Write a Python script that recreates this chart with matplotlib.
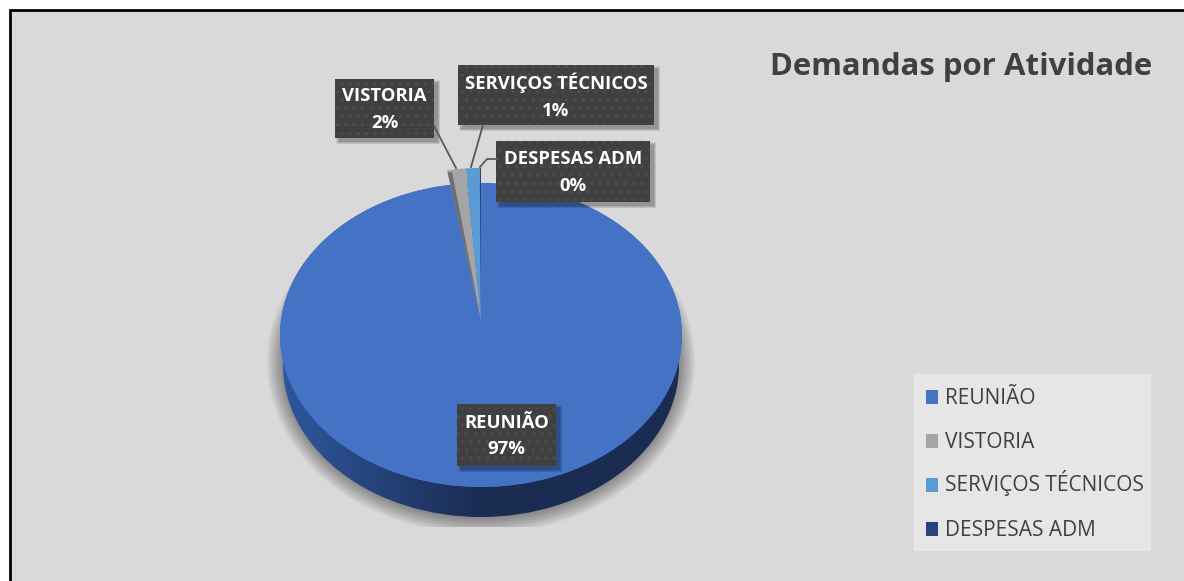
import matplotlib
matplotlib.use("Agg")
from matplotlib import pyplot as plt
from matplotlib.patches import Ellipse, Rectangle, Wedge
import numpy as np

categories = ["REUNIÃO", "VISTORIA", "SERVIÇOS TÉCNICOS", "DESPESAS ADM"]
values = [97.3, 1.5, 1.1, 0.1]
pct_labels = ["97%", "2%", "1%", "0%"]
colors = ["#4472c4", "#a5a5a5", "#5b9bd5", "#264478"]
title = "Demandas por Atividade"

plt.rcParams['font.family'] = ['Open Sans', 'DejaVu Sans']
plt.rcParams['hatch.linewidth'] = 1.0

W, H = 1184, 581
fig = plt.figure(figsize=(W / 100, H / 100), dpi=100, facecolor="white")

# whole figure in pixel coords, y down
bg = fig.add_axes([0, 0, 1, 1])
bg.set_xlim(0, W)
bg.set_ylim(H, 0)
bg.axis("off")
bg.add_patch(Rectangle((10, 10), 1190, 590, fc="#d9d9d9", ec="black", lw=2))


def pie_axes(cx, cy, rx, ry):
    # axes where the unit pie comes out as an ellipse
    ax = fig.add_axes([(cx - rx) / W, 1 - (cy + ry) / H, 2 * rx / W, 2 * ry / H])
    ax.patch.set_alpha(0)
    return ax


# shadow below the pie, cut flat at the bottom
shadow_clip = Rectangle((200, 150), 560, 377, transform=bg.transData)
for i in range(12):
    s = Ellipse((481, 362), 2 * (214 - i * 1.6), 2 * (172 - i * 1.6), fc="black", ec="none", alpha=0.038)
    bg.add_patch(s)
    s.set_clip_path(shadow_clip)

# side of the pie, gradient left to right
cx, cy, rx, ry = 481, 335, 201, 152
grad = np.linspace(0, 1, 256).reshape(1, -1)
c0 = np.array([0x2f, 0x57, 0x9e]) / 255
c1 = np.array([0x1a, 0x2c, 0x52]) / 255
t = np.clip(grad * 2.0, 0, 1)[..., None]
img = bg.imshow(c0 + (c1 - c0) * t, extent=[283, 679, 517, 330], aspect="auto", zorder=2)
bg.set_xlim(0, W)
bg.set_ylim(H, 0)
clip = Ellipse((481, 365), 396, 304, transform=bg.transData, fc="none", ec="none")
bg.add_patch(clip)
img.set_clip_path(clip)

# main slice, the full ellipse closes the notch under the small slices
bg.add_patch(Ellipse((cx, cy), 2 * rx, 2 * ry, fc=colors[0], ec="none", zorder=3))
ax1 = pie_axes(cx, cy, rx, ry)
wedges, _ = ax1.pie(values, colors=colors, startangle=90, counterclock=False, radius=1)
ax1.set_aspect("auto")
ax1.set_xlim(-1, 1)
ax1.set_ylim(-1, 1)
for w in wedges[1:]:
    w.set_visible(False)

# small slices sit higher up
ax2 = pie_axes(481, 320, 201, 152)
wedges2, _ = ax2.pie(values, colors=colors, startangle=90, counterclock=False, radius=1)
ax2.set_aspect("auto")
ax2.set_xlim(-1, 1)
ax2.set_ylim(-1, 1)
wedges2[0].set_visible(False)
# darker left edge of the grey slice
left_edge = wedges2[1].theta2
ax2.add_patch(Wedge((0, 0), 0.985, left_edge - 1.3, left_edge, fc="#6e6e6e", ec="none"))

over = fig.add_axes([0, 0, 1, 1])
over.set_xlim(0, W)
over.set_ylim(H, 0)
over.axis("off")

# leader lines
over.plot([434, 456], [126, 168], color="#595959", lw=1.3)
over.plot([483, 471], [125, 167], color="#595959", lw=1.3)
over.plot([480, 487, 497], [167, 159, 159], color="#595959", lw=1.3)

# data labels, name and percent
boxes = [(457, 404, 99, 62), (335, 79, 99, 59), (458, 65, 196, 60), (496, 141, 154, 61)]
for i, (x, y, w, h) in enumerate(boxes):
    for k in range(6):
        over.add_patch(Rectangle((x + 1 + k * 0.6, y + 1 + k * 0.6), w + 5 - k, h + 5 - k, fc="black", ec="none", alpha=0.06))
    over.add_patch(Rectangle((x, y), w, h, fc="#404040", ec="#4d4d4d", lw=0, hatch=".."))
    over.text(x + w / 2, y + h / 2 + 1, categories[i] + "\n" + pct_labels[i], color="white", fontsize=13.3,
              fontweight="bold", ha="center", va="center", linespacing=1.62)

over.text(1152, 75, title, color="#404040", fontsize=22.4, fontweight="bold", ha="right", va="baseline")

# legend
over.add_patch(Rectangle((914, 374), 237, 177, fc="#e6e6e6", ec="none"))
legend_y = [397, 441, 485, 529]
for name, col, y in zip(categories, colors, legend_y):
    over.add_patch(Rectangle((926, y - 7), 12, 14, fc=col, ec="none"))
    over.text(945, y + 6.5, name, color="#404040", fontsize=15, ha="left", va="baseline")

fig.savefig("out.png", dpi=100)
